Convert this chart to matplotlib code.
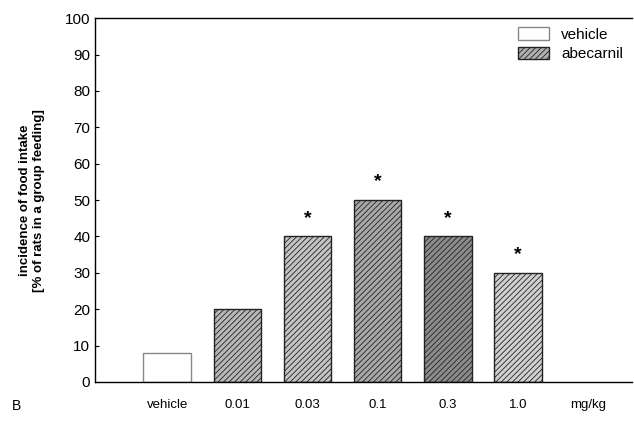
import numpy as np
import matplotlib
matplotlib.use('Agg')
import matplotlib.pyplot as plt

plt.rcParams['font.family'] = ['Liberation Sans', 'DejaVu Sans']
plt.rcParams['hatch.linewidth'] = 0.6

labels = ['vehicle', '0.01', '0.03', '0.1', '0.3', '1.0', 'mg/kg']
values = [8, 20, 40, 50, 40, 30]
signif = [False, False, True, True, True, True]
colors = ['white', '#b8b8b8', '#c4c4c4', '#a8a8a8', '#8c8c8c', '#d0d0d0']

fig = plt.figure(figsize=(6.34, 4.23), dpi=100)
ax = fig.add_axes([0.150, 0.097, 0.847, 0.860])

x = np.arange(len(values))
for i, (v, c) in enumerate(zip(values, colors)):
    if i == 0:
        ax.bar(x[i], v, width=0.68, color='white', edgecolor='#888888', linewidth=1.0)
    else:
        ax.bar(x[i], v, width=0.68, color=c, edgecolor='#222222', linewidth=1.0,
               hatch='//////')
    if signif[i]:
        ax.text(x[i], v + 5, '*', ha='center', va='center', fontsize=14, fontweight='bold')

# legend handles
ax.bar(np.nan, 0, color='white', edgecolor='#888888', label='vehicle')
ax.bar(np.nan, 0, color='#b0b0b0', edgecolor='#222222', hatch='//////', label='abecarnil')
ax.legend(loc='upper right', frameon=False, fontsize=11, handlelength=2.0,
          handleheight=0.9, borderaxespad=0.2, labelspacing=0.3)

ax.set_xlim(-1.03, 6.63)
ax.set_ylim(0, 100)
ax.set_yticks(range(0, 101, 10))
ax.set_xticks(range(len(labels)))
ax.set_xticklabels(labels, fontsize=9.5)
ax.tick_params(axis='x', length=0, pad=12)
ax.tick_params(axis='y', labelsize=11, length=3, direction='in')
ax.spines['right'].set_visible(False)
for s in ['left', 'top', 'bottom']:
    ax.spines[s].set_linewidth(1.0)

ax.set_ylabel('incidence of food intake\n[% of rats in a group feeding]',
              fontsize=9.5, fontweight='bold', labelpad=14)

fig.text(0.018, 0.03, 'B', fontsize=10)

fig.savefig('out.png', dpi=100)
